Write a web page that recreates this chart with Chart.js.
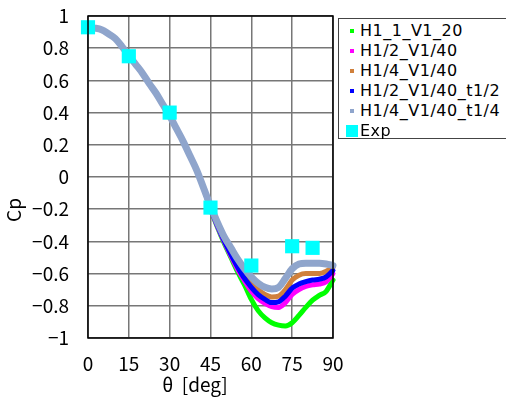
<!DOCTYPE html>
<html lang="ja">
<head>
<meta charset="UTF-8" />
<title>Cp distribution</title>
<script src="https://cdn.jsdelivr.net/npm/chart.js"></script>
<style>
  body { margin: 0; background: #fff; }
  #wrap { position: relative; width: 506px; height: 401px; overflow: hidden; }
  #cpChart { position: absolute; left: 0; top: 0; }
  #legend {
    position: absolute; left: 338px; top: 18px; width: 180px; height: 121px;
    border: 1px solid #444; box-sizing: border-box; background: #fff;
    font-family: 'DejaVu Sans', sans-serif; font-size: 16px; letter-spacing: 0.5px; color: #000;
  }
  #legend .row { position: absolute; left: 0; height: 20px; line-height: 20px; white-space: nowrap; }
  #legend .mk { position: absolute; top: 50%; transform: translateY(-50%); }
  #legend .txt { position: absolute; left: 21px; }
</style>
</head>
<body>
<div id="wrap">
  <canvas id="cpChart" width="506" height="401"></canvas>
  <div id="legend"></div>
</div>
<script>
// angle from the stagnation point [deg]
const theta = [0, 2.5, 5, 7.5, 10, 12.5, 15, 17.5, 20, 22.5, 25, 27.5, 30, 32.5, 35, 37.5, 40, 42.5,
  45, 47.5, 50, 52.5, 55, 57.5, 60, 62.5, 65, 67.5, 70, 72.5, 75, 77.5, 80, 82.5, 85, 87.5, 90];

// front part is shared by all grids
const front = [0.93, 0.925, 0.915, 0.89, 0.86, 0.81, 0.755, 0.70, 0.645, 0.58, 0.52, 0.45, 0.38,
  0.30, 0.22, 0.13, 0.04, -0.07];

const cpH1V20 = front.concat([-0.20, -0.31, -0.41, -0.50, -0.59, -0.67, -0.76, -0.83, -0.875,
  -0.905, -0.92, -0.925, -0.905, -0.86, -0.81, -0.765, -0.735, -0.71, -0.64]);
const cpH2V40 = front.concat([-0.195, -0.305, -0.40, -0.49, -0.575, -0.645, -0.71, -0.755, -0.785,
  -0.805, -0.81, -0.78, -0.73, -0.70, -0.68, -0.67, -0.665, -0.65, -0.60]);
const cpH4V40 = front.concat([-0.185, -0.29, -0.385, -0.465, -0.54, -0.61, -0.66, -0.70, -0.73,
  -0.745, -0.74, -0.70, -0.64, -0.61, -0.60, -0.60, -0.60, -0.585, -0.56]);
const cpH2V40t2 = front.concat([-0.19, -0.30, -0.395, -0.48, -0.56, -0.63, -0.685, -0.73, -0.76,
  -0.78, -0.775, -0.74, -0.69, -0.665, -0.65, -0.64, -0.635, -0.62, -0.58]);
const cpH4V40t4 = front.concat([-0.18, -0.28, -0.37, -0.44, -0.51, -0.57, -0.62, -0.66, -0.685,
  -0.695, -0.685, -0.63, -0.57, -0.54, -0.535, -0.535, -0.535, -0.54, -0.55]);

// experiment
const expTheta = [0, 15, 30, 45, 60, 75, 82.5];
const expCp = [0.93, 0.75, 0.40, -0.19, -0.55, -0.43, -0.44];

const seriesNames = ['H1_1_V1_20', 'H1/2_V1/40', 'H1/4_V1/40', 'H1/2_V1/40_t1/2', 'H1/4_V1/40_t1/4', 'Exp'];
const seriesColors = ['#00ff00', '#ff00ff', '#d0803c', '#0000ff', '#8fa5cc', '#00ffff'];
const yTicks = [-1, -0.8, -0.6, -0.4, -0.2, 0, 0.2, 0.4, 0.6, 0.8, 1];
const xTicks = [0, 15, 30, 45, 60, 75, 90];

const pts = (xs, ys) => xs.map((x, i) => ({ x: x, y: ys[i] }));

function lineSet(idx, ys, width, order) {
  return {
    label: seriesNames[idx],
    data: pts(theta, ys),
    showLine: true,
    borderColor: seriesColors[idx],
    backgroundColor: seriesColors[idx],
    borderWidth: width,
    pointRadius: 0,
    cubicInterpolationMode: 'monotone',
    borderJoinStyle: 'round',
    borderCapStyle: 'round',
    order: order
  };
}

const tickFont = { family: "'Noto Sans CJK JP', sans-serif", size: 19 };

const frameAndTitles = {
  id: 'frameAndTitles',
  afterDatasetsDraw(chart) {
    const { ctx, chartArea: a } = chart;
    ctx.save();
    ctx.strokeStyle = '#000';
    ctx.lineWidth = 1.5;
    ctx.strokeRect(a.left, a.top, a.right - a.left, a.bottom - a.top);
    ctx.restore();
  },
  afterDraw(chart) {
    const ctx = chart.ctx;
    ctx.save();
    ctx.fillStyle = '#000';
    ctx.font = "19px 'Noto Sans CJK JP', sans-serif";
    ctx.textAlign = 'center';
    ctx.textBaseline = 'middle';
    ctx.fillText('\u03b8  [deg]', 195, 385);
    ctx.translate(14, 210);
    ctx.rotate(-Math.PI / 2);
    ctx.fillText('Cp', 0, 0);
    ctx.restore();
  }
};

const chart = new Chart(document.getElementById('cpChart'), {
  type: 'scatter',
  data: {
    datasets: [
      lineSet(0, cpH1V20, 5, 6),
      lineSet(1, cpH2V40, 5, 5),
      lineSet(2, cpH4V40, 5, 4),
      lineSet(3, cpH2V40t2, 5, 3),
      lineSet(4, cpH4V40t4, 7, 2),
      {
        label: seriesNames[5],
        data: pts(expTheta, expCp),
        showLine: false,
        pointStyle: 'rect',
        pointRadius: 10,
        pointBorderWidth: 0,
        backgroundColor: seriesColors[5],
        borderColor: seriesColors[5],
        order: 1
      }
    ]
  },
  options: {
    responsive: false,
    animation: false,
    clip: false,
    layout: { padding: { left: 0, top: 16, right: 173, bottom: 0 } },
    plugins: { legend: { display: false }, tooltip: { enabled: false } },
    scales: {
      x: {
        type: 'linear', min: 0, max: 90,
        afterBuildTicks: s => { s.ticks = xTicks.map(v => ({ value: v })); },
        afterFit: s => { s.height = 63; s.paddingLeft = 0; s.paddingRight = 0; },
        grid: { color: '#777', lineWidth: 1.5, tickLength: 0 },
        border: { display: false },
        ticks: { color: '#000', font: tickFont, padding: 14, maxRotation: 0 }
      },
      y: {
        type: 'linear', min: -1, max: 1,
        afterBuildTicks: s => { s.ticks = yTicks.map(v => ({ value: v })); },
        afterFit: s => { s.width = 88; s.paddingTop = 0; s.paddingBottom = 0; },
        grid: { color: '#777', lineWidth: 1.5, tickLength: 0 },
        border: { display: false },
        ticks: {
          color: '#000', font: tickFont, padding: 19,
          callback: v => String(Math.round(v * 10) / 10).replace('-', '\u2212')
        }
      }
    }
  },
  plugins: [frameAndTitles]
});

// legend box built from the same series lists
const legend = document.getElementById('legend');
seriesNames.forEach((name, i) => {
  const row = document.createElement('div');
  row.className = 'row';
  row.style.top = (2 + i * 20) + 'px';
  const mk = document.createElement('span');
  mk.className = 'mk';
  const isExp = i === seriesNames.length - 1;
  mk.style.left = isExp ? '7px' : '11px';
  mk.style.width = isExp ? '12px' : '4px';
  mk.style.height = isExp ? '12px' : '4px';
  mk.style.background = seriesColors[i];
  const txt = document.createElement('span');
  txt.className = 'txt';
  txt.textContent = name;
  row.appendChild(mk);
  row.appendChild(txt);
  legend.appendChild(row);
});
</script>
</body>
</html>
